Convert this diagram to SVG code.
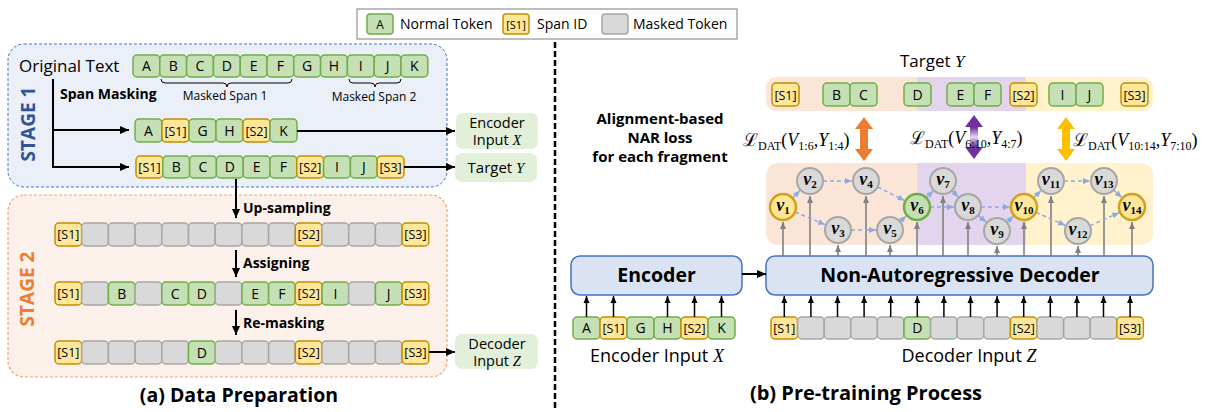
<svg xmlns="http://www.w3.org/2000/svg" width="1217" height="412" viewBox="0 0 1217 412">
<style>
text{font-family:"Open Sans","Noto Sans","DejaVu Sans",sans-serif;fill:#000}
.tg{fill:#c5e0b4;stroke:#70ad47;stroke-width:1.5}
.ty{fill:#ffe699;stroke:#bf9000;stroke-width:1.5}
.tm{fill:#d9d9d9;stroke:#a6a6a6;stroke-width:1.5}
.tl{font-size:14px;text-anchor:middle}
.ts{font-size:12.5px;text-anchor:middle}
.b{font-weight:bold}
.ln{stroke:#000;stroke-width:2;fill:none}
.la{stroke:#000;stroke-width:1.5;fill:none;marker-end:url(#ahk)}
.gray{stroke:#808080;stroke-width:1.6;fill:none;marker-end:url(#ahg)}
.dash{stroke:#8faadc;stroke-width:1.5;fill:none;stroke-dasharray:4 3;marker-end:url(#ahb)}
.nd{fill:#d9d9d9;stroke:#a6a6a6;stroke-width:2}
.ny{fill:#ffe699;stroke:#d4a017;stroke-width:2.5}
.ng{fill:#c5e0b4;stroke:#70ad47;stroke-width:2.5}
.vt{font-family:"Liberation Serif","DejaVu Serif",serif;font-size:18px;font-weight:bold;font-style:italic;text-anchor:middle}
.vs{font-size:11px;font-style:normal}
.math{font-family:"Liberation Serif","DejaVu Serif",serif;font-size:18px}
.sub{font-size:12px}
.it{font-family:"Liberation Serif","DejaVu Serif",serif;font-style:italic}
.box{fill:#e2f0d9}
.al{font-size:15px;font-weight:bold;text-anchor:middle}
</style>
<defs>
<marker id="ah" markerUnits="userSpaceOnUse" markerWidth="10" markerHeight="10" refX="9" refY="5" orient="auto"><path d="M0,1 L9,5 L0,9 z" fill="#000"/></marker>
<marker id="ahk" markerUnits="userSpaceOnUse" markerWidth="8" markerHeight="8" refX="7" refY="4" orient="auto"><path d="M0,1 L7,4 L0,7 z" fill="#000"/></marker>
<marker id="ahg" markerUnits="userSpaceOnUse" markerWidth="8" markerHeight="8" refX="7" refY="4" orient="auto"><path d="M0,1 L7,4 L0,7 z" fill="#808080"/></marker>
<marker id="ahb" markerUnits="userSpaceOnUse" markerWidth="8" markerHeight="8" refX="7" refY="4" orient="auto"><path d="M0,1 L7,4 L0,7 z" fill="#8faadc"/></marker>
<linearGradient id="pg" x1="0" y1="0" x2="0" y2="1"><stop offset="0" stop-color="#7030a0"/><stop offset="0.28" stop-color="#7030a0"/><stop offset="0.5" stop-color="#e6d6f2"/><stop offset="0.72" stop-color="#7030a0"/><stop offset="1" stop-color="#7030a0"/></linearGradient>
</defs>
<rect width="1217" height="412" fill="#fff"/>

<!-- legend -->
<g id="legend">
<rect x="357" y="9" width="380" height="30" fill="#fff" stroke="#7f7f7f" stroke-width="1"/>
<rect x="367" y="14" width="26" height="20" rx="3" class="tg"/><text x="380" y="29" font-size="12" text-anchor="middle">A</text>
<text x="400" y="29" font-size="14">Normal Token</text>
<rect x="503" y="14" width="26" height="20" rx="3" class="ty"/><text x="516" y="29" font-size="11" text-anchor="middle">[S1]</text>
<text x="537" y="29" font-size="14">Span ID</text>
<rect x="602" y="14" width="26" height="20" rx="3" class="tm"/>
<text x="633" y="29" font-size="14">Masked Token</text>
</g>

<!-- divider -->
<line x1="555" y1="42" x2="555" y2="408" stroke="#000" stroke-width="2.5" stroke-dasharray="6 3"/>

<!-- Stage 1 -->
<g id="stage1">
<rect x="8" y="44" width="439" height="143" rx="16" fill="#eaeff8" stroke="#4472c4" stroke-width="1" stroke-dasharray="3 2"/>
<text transform="translate(35,124) rotate(-90)" text-anchor="middle" font-size="19" font-weight="bold" style="fill:#2f5597">STAGE 1</text>
<text x="19" y="72" font-size="17">Original Text</text>
<text x="60" y="99" font-size="14" class="b">Span Masking</text>
</g>
<g id="original-text">
<rect x="133" y="55" width="26.8" height="22" rx="4" class="tg"/><text x="146.4" y="71" class="tl">A</text>
<rect x="159.8" y="55" width="26.8" height="22" rx="4" class="tg"/><text x="173.2" y="71" class="tl">B</text>
<rect x="186.6" y="55" width="26.8" height="22" rx="4" class="tg"/><text x="200" y="71" class="tl">C</text>
<rect x="213.4" y="55" width="26.8" height="22" rx="4" class="tg"/><text x="226.8" y="71" class="tl">D</text>
<rect x="240.2" y="55" width="26.8" height="22" rx="4" class="tg"/><text x="253.6" y="71" class="tl">E</text>
<rect x="267" y="55" width="26.8" height="22" rx="4" class="tg"/><text x="280.4" y="71" class="tl">F</text>
<rect x="293.8" y="55" width="26.8" height="22" rx="4" class="tg"/><text x="307.2" y="71" class="tl">G</text>
<rect x="320.6" y="55" width="26.8" height="22" rx="4" class="tg"/><text x="334" y="71" class="tl">H</text>
<rect x="347.4" y="55" width="26.8" height="22" rx="4" class="tg"/><text x="360.8" y="71" class="tl">I</text>
<rect x="374.2" y="55" width="26.8" height="22" rx="4" class="tg"/><text x="387.6" y="71" class="tl">J</text>
<rect x="401" y="55" width="26.8" height="22" rx="4" class="tg"/><text x="414.4" y="71" class="tl">K</text>
<path d="M161,79 q0,4 4,4 L223,83 q4,0 4,4 q0,-4 4,-4 L288,83 q4,0 4,-4" fill="none" stroke="#000" stroke-width="1"/>
<text x="225" y="100" font-size="12" text-anchor="middle">Masked Span 1</text>
<path d="M349,79 q0,4 4,4 L371,83 q4,0 4,4 q0,-4 4,-4 L397,83 q4,0 4,-4" fill="none" stroke="#000" stroke-width="1"/>
<text x="374" y="101" font-size="12" text-anchor="middle">Masked Span 2</text>
</g>
<g id="s1-encoder-row">
<rect x="135" y="119" width="27" height="23" rx="4" class="tg"/><text x="148.5" y="136" class="tl">A</text>
<rect x="162" y="119" width="27" height="23" rx="4" class="ty"/><text x="175.5" y="135.5" class="ts">[S1]</text>
<rect x="189" y="119" width="27" height="23" rx="4" class="tg"/><text x="202.5" y="136" class="tl">G</text>
<rect x="216" y="119" width="27" height="23" rx="4" class="tg"/><text x="229.5" y="136" class="tl">H</text>
<rect x="243" y="119" width="27" height="23" rx="4" class="ty"/><text x="256.5" y="135.5" class="ts">[S2]</text>
<rect x="270" y="119" width="27" height="23" rx="4" class="tg"/><text x="283.5" y="136" class="tl">K</text>
</g>
<g id="s1-target-row">
<rect x="136" y="156" width="26.8" height="22" rx="4" class="ty"/><text x="149.4" y="171.5" class="ts">[S1]</text>
<rect x="162.8" y="156" width="26.8" height="22" rx="4" class="tg"/><text x="176.2" y="172" class="tl">B</text>
<rect x="189.6" y="156" width="26.8" height="22" rx="4" class="tg"/><text x="203" y="172" class="tl">C</text>
<rect x="216.4" y="156" width="26.8" height="22" rx="4" class="tg"/><text x="229.8" y="172" class="tl">D</text>
<rect x="243.2" y="156" width="26.8" height="22" rx="4" class="tg"/><text x="256.6" y="172" class="tl">E</text>
<rect x="270" y="156" width="26.8" height="22" rx="4" class="tg"/><text x="283.4" y="172" class="tl">F</text>
<rect x="296.8" y="156" width="26.8" height="22" rx="4" class="ty"/><text x="310.2" y="171.5" class="ts">[S2]</text>
<rect x="323.6" y="156" width="26.8" height="22" rx="4" class="tg"/><text x="337" y="172" class="tl">I</text>
<rect x="350.4" y="156" width="26.8" height="22" rx="4" class="tg"/><text x="363.8" y="172" class="tl">J</text>
<rect x="377.2" y="156" width="26.8" height="22" rx="4" class="ty"/><text x="390.6" y="171.5" class="ts">[S3]</text>
</g>
<g id="encoder-input-x-box">
<rect x="456" y="113" width="82" height="36" rx="7" class="box"/>
<text x="497" y="127.5" font-size="14.5" text-anchor="middle">Encoder</text>
<text x="497" y="145" font-size="14.5" text-anchor="middle">Input <tspan class="it">X</tspan></text>
</g>
<g id="target-y-box">
<rect x="455" y="153" width="82" height="29" rx="7" class="box"/>
<text x="496" y="173" font-size="15" text-anchor="middle">Target <tspan class="it">Y</tspan></text>
</g>

<!-- Stage 2 -->
<g id="stage2">
<rect x="8" y="195" width="439" height="182" rx="16" fill="#fcf1ea" stroke="#f4a26b" stroke-width="1.2" stroke-dasharray="3 2"/>
<text transform="translate(34,289) rotate(-90)" text-anchor="middle" font-size="19" font-weight="bold" style="fill:#ed7d31">STAGE 2</text>
<text x="243" y="213" font-size="14" class="b">Up-sampling</text>
<text x="243" y="268" font-size="14" class="b">Assigning</text>
<text x="243" y="328" font-size="14" class="b">Re-masking</text>
</g>
<g id="s2-upsampled-row">
<rect x="55" y="223" width="26.7" height="23" rx="4" class="ty"/><text x="68.35" y="239" class="ts">[S1]</text>
<rect x="81.7" y="223" width="26.7" height="23" rx="4" class="tm"/>
<rect x="108.4" y="223" width="26.7" height="23" rx="4" class="tm"/>
<rect x="135.1" y="223" width="26.7" height="23" rx="4" class="tm"/>
<rect x="161.8" y="223" width="26.7" height="23" rx="4" class="tm"/>
<rect x="188.5" y="223" width="26.7" height="23" rx="4" class="tm"/>
<rect x="215.2" y="223" width="26.7" height="23" rx="4" class="tm"/>
<rect x="241.9" y="223" width="26.7" height="23" rx="4" class="tm"/>
<rect x="268.6" y="223" width="26.7" height="23" rx="4" class="tm"/>
<rect x="295.3" y="223" width="26.7" height="23" rx="4" class="ty"/><text x="308.65" y="239" class="ts">[S2]</text>
<rect x="322" y="223" width="26.7" height="23" rx="4" class="tm"/>
<rect x="348.7" y="223" width="26.7" height="23" rx="4" class="tm"/>
<rect x="375.4" y="223" width="26.7" height="23" rx="4" class="tm"/>
<rect x="402.1" y="223" width="26.7" height="23" rx="4" class="ty"/><text x="415.45" y="239" class="ts">[S3]</text>
</g>
<g id="s2-assigned-row">
<rect x="55" y="282" width="26.7" height="23" rx="4" class="ty"/><text x="68.35" y="298" class="ts">[S1]</text>
<rect x="81.7" y="282" width="26.7" height="23" rx="4" class="tm"/>
<rect x="108.4" y="282" width="26.7" height="23" rx="4" class="tg"/><text x="121.75" y="298.5" class="tl">B</text>
<rect x="135.1" y="282" width="26.7" height="23" rx="4" class="tm"/>
<rect x="161.8" y="282" width="26.7" height="23" rx="4" class="tg"/><text x="175.15" y="298.5" class="tl">C</text>
<rect x="188.5" y="282" width="26.7" height="23" rx="4" class="tg"/><text x="201.85" y="298.5" class="tl">D</text>
<rect x="215.2" y="282" width="26.7" height="23" rx="4" class="tm"/>
<rect x="241.9" y="282" width="26.7" height="23" rx="4" class="tg"/><text x="255.25" y="298.5" class="tl">E</text>
<rect x="268.6" y="282" width="26.7" height="23" rx="4" class="tg"/><text x="281.95" y="298.5" class="tl">F</text>
<rect x="295.3" y="282" width="26.7" height="23" rx="4" class="ty"/><text x="308.65" y="298" class="ts">[S2]</text>
<rect x="322" y="282" width="26.7" height="23" rx="4" class="tg"/><text x="335.35" y="298.5" class="tl">I</text>
<rect x="348.7" y="282" width="26.7" height="23" rx="4" class="tm"/>
<rect x="375.4" y="282" width="26.7" height="23" rx="4" class="tg"/><text x="388.75" y="298.5" class="tl">J</text>
<rect x="402.1" y="282" width="26.7" height="23" rx="4" class="ty"/><text x="415.45" y="298" class="ts">[S3]</text>
</g>
<g id="s2-remasked-row">
<rect x="55" y="341" width="26.7" height="23" rx="4" class="ty"/><text x="68.35" y="357" class="ts">[S1]</text>
<rect x="81.7" y="341" width="26.7" height="23" rx="4" class="tm"/>
<rect x="108.4" y="341" width="26.7" height="23" rx="4" class="tm"/>
<rect x="135.1" y="341" width="26.7" height="23" rx="4" class="tm"/>
<rect x="161.8" y="341" width="26.7" height="23" rx="4" class="tm"/>
<rect x="188.5" y="341" width="26.7" height="23" rx="4" class="tg"/><text x="201.85" y="357.5" class="tl">D</text>
<rect x="215.2" y="341" width="26.7" height="23" rx="4" class="tm"/>
<rect x="241.9" y="341" width="26.7" height="23" rx="4" class="tm"/>
<rect x="268.6" y="341" width="26.7" height="23" rx="4" class="tm"/>
<rect x="295.3" y="341" width="26.7" height="23" rx="4" class="ty"/><text x="308.65" y="357" class="ts">[S2]</text>
<rect x="322" y="341" width="26.7" height="23" rx="4" class="tm"/>
<rect x="348.7" y="341" width="26.7" height="23" rx="4" class="tm"/>
<rect x="375.4" y="341" width="26.7" height="23" rx="4" class="tm"/>
<rect x="402.1" y="341" width="26.7" height="23" rx="4" class="ty"/><text x="415.45" y="357" class="ts">[S3]</text>
</g>
<g id="decoder-input-z-box">
<rect x="455" y="334" width="83" height="35" rx="7" class="box"/>
<text x="497" y="348.5" font-size="14.5" text-anchor="middle">Decoder</text>
<text x="497" y="366" font-size="14.5" text-anchor="middle">Input <tspan class="it">Z</tspan></text>
</g>
<text x="239" y="402" font-size="19.5" font-weight="bold" text-anchor="middle">(a) Data Preparation</text>

<!-- Right panel -->
<text x="900" y="67" font-size="17">Target <tspan class="it">Y</tspan></text>
<g id="target-band">
<rect x="766" y="77" width="170" height="34" rx="10" fill="#fbe5d6"/>
<rect x="1005" y="77" width="148" height="34" rx="10" fill="#fff2cc"/>
<rect x="917" y="77" width="109" height="34" fill="#e3d5ee"/>
</g>
<g id="target-tokens">
<rect x="772" y="83" width="27" height="23" rx="4" class="ty"/><text x="785.5" y="99.5" class="ts">[S1]</text>
<rect x="823" y="83" width="27" height="23" rx="4" class="tg"/><text x="836.5" y="100" class="tl">B</text>
<rect x="850" y="83" width="27" height="23" rx="4" class="tg"/><text x="863.5" y="100" class="tl">C</text>
<rect x="904" y="83" width="27" height="23" rx="4" class="tg"/><text x="917.5" y="100" class="tl">D</text>
<rect x="947" y="83" width="27" height="23" rx="4" class="tg"/><text x="960.5" y="100" class="tl">E</text>
<rect x="974" y="83" width="27" height="23" rx="4" class="tg"/><text x="987.5" y="100" class="tl">F</text>
<rect x="1010" y="83" width="27" height="23" rx="4" class="ty"/><text x="1023.5" y="99.5" class="ts">[S2]</text>
<rect x="1049" y="83" width="27" height="23" rx="4" class="tg"/><text x="1062.5" y="100" class="tl">I</text>
<rect x="1076" y="83" width="27" height="23" rx="4" class="tg"/><text x="1089.5" y="100" class="tl">J</text>
<rect x="1121" y="83" width="27" height="23" rx="4" class="ty"/><text x="1134.5" y="99.5" class="ts">[S3]</text>
</g>

<text x="660" y="124" class="al">Alignment-based</text>
<text x="660" y="143" class="al">NAR loss</text>
<text x="660" y="162" class="al">for each fragment</text>

<g id="loss-arrows">
<polygon points="864,117 873,129 868,129 868,149 873,149 864,161 855,149 860,149 860,129 855,129" fill="#ed7d31"/>
<polygon points="974,115 983,127 978,127 978,147 983,147 974,159 965,147 970,147 970,127 965,127" fill="url(#pg)"/>
<polygon points="1066,117 1075,129 1070,129 1070,149 1075,149 1066,161 1057,149 1062,149 1062,129 1057,129" fill="#ffc000"/>
</g>
<text x="743" y="146" class="math">ℒ<tspan class="sub" dy="4">DAT</tspan><tspan dy="-4">(</tspan><tspan font-style="italic">V</tspan><tspan class="sub" dy="4">1:6</tspan><tspan dy="-4">,</tspan><tspan font-style="italic">Y</tspan><tspan class="sub" dy="4">1:4</tspan><tspan dy="-4">)</tspan></text>
<text x="910" y="144" class="math">ℒ<tspan class="sub" dy="4">DAT</tspan><tspan dy="-4">(</tspan><tspan font-style="italic">V</tspan><tspan class="sub" dy="4">6:10</tspan><tspan dy="-4">,</tspan><tspan font-style="italic">Y</tspan><tspan class="sub" dy="4">4:7</tspan><tspan dy="-4">)</tspan></text>
<text x="1073" y="146" class="math">ℒ<tspan class="sub" dy="4">DAT</tspan><tspan dy="-4">(</tspan><tspan font-style="italic">V</tspan><tspan class="sub" dy="4">10:14</tspan><tspan dy="-4">,</tspan><tspan font-style="italic">Y</tspan><tspan class="sub" dy="4">7:10</tspan><tspan dy="-4">)</tspan></text>

<g id="dag-band">
<rect x="766" y="163" width="170" height="82" rx="12" fill="#fbe5d6"/>
<rect x="1005" y="163" width="148" height="82" rx="12" fill="#fff2cc"/>
<rect x="917" y="163" width="109" height="82" fill="#e3d5ee"/>
</g>

<g id="encoder">
<rect x="571" y="256" width="171" height="39" rx="9" fill="#dae3f3" stroke="#4472c4" stroke-width="1.5"/>
<text x="656.5" y="282" font-size="19.5" font-weight="bold" text-anchor="middle">Encoder</text>
</g>
<g id="decoder">
<rect x="766" y="256" width="387" height="39" rx="9" fill="#dae3f3" stroke="#4472c4" stroke-width="1.5"/>
<text x="960" y="282" font-size="19.5" font-weight="bold" text-anchor="middle">Non-Autoregressive Decoder</text>
</g>

<g id="encoder-input-tokens">
<rect x="573" y="317" width="27" height="22" rx="4" class="tg"/><text x="586.5" y="333" class="tl">A</text>
<rect x="600" y="317" width="27" height="22" rx="4" class="ty"/><text x="613.5" y="332.5" class="ts">[S1]</text>
<rect x="627" y="317" width="27" height="22" rx="4" class="tg"/><text x="640.5" y="333" class="tl">G</text>
<rect x="654" y="317" width="27" height="22" rx="4" class="tg"/><text x="667.5" y="333" class="tl">H</text>
<rect x="681" y="317" width="27" height="22" rx="4" class="ty"/><text x="694.5" y="332.5" class="ts">[S2]</text>
<rect x="708" y="317" width="27" height="22" rx="4" class="tg"/><text x="721.5" y="333" class="tl">K</text>
</g>
<text x="657" y="362" font-size="18" text-anchor="middle">Encoder Input <tspan class="it">X</tspan></text>

<g id="decoder-input-tokens">
<rect x="771" y="317" width="26.6" height="22" rx="4" class="ty"/><text x="784.3" y="332.5" class="ts">[S1]</text>
<rect x="797.6" y="317" width="26.6" height="22" rx="4" class="tm"/>
<rect x="824.2" y="317" width="26.6" height="22" rx="4" class="tm"/>
<rect x="850.8" y="317" width="26.6" height="22" rx="4" class="tm"/>
<rect x="877.4" y="317" width="26.6" height="22" rx="4" class="tm"/>
<rect x="904" y="317" width="26.6" height="22" rx="4" class="tg"/><text x="917.3" y="333" class="tl">D</text>
<rect x="930.6" y="317" width="26.6" height="22" rx="4" class="tm"/>
<rect x="957.2" y="317" width="26.6" height="22" rx="4" class="tm"/>
<rect x="983.8" y="317" width="26.6" height="22" rx="4" class="tm"/>
<rect x="1010.4" y="317" width="26.6" height="22" rx="4" class="ty"/><text x="1023.7" y="332.5" class="ts">[S2]</text>
<rect x="1037" y="317" width="26.6" height="22" rx="4" class="tm"/>
<rect x="1063.6" y="317" width="26.6" height="22" rx="4" class="tm"/>
<rect x="1090.2" y="317" width="26.6" height="22" rx="4" class="tm"/>
<rect x="1116.8" y="317" width="26.6" height="22" rx="4" class="ty"/><text x="1130.1" y="332.5" class="ts">[S3]</text>
</g>
<text x="969" y="362" font-size="18" text-anchor="middle">Decoder Input  <tspan class="it">Z</tspan></text>
<text x="866" y="400" font-size="20" font-weight="bold" text-anchor="middle">(b) Pre-training Process</text>

<!-- connectors -->
<g id="connectors">
<path d="M53,79 V167 H129" class="ln" marker-end="url(#ah)"/>
<path d="M53,130 H129" class="ln" marker-end="url(#ah)"/>
<path d="M297,131 H455" class="ln" marker-end="url(#ah)"/>
<path d="M404,167 H455" class="ln" marker-end="url(#ah)"/>
<path d="M429,352 H455" class="ln" marker-end="url(#ah)"/>
<path d="M236,179 V218" class="ln" marker-end="url(#ah)"/>
<path d="M236,250 V277" class="ln" marker-end="url(#ah)"/>
<path d="M236,310 V335" class="ln" marker-end="url(#ah)"/>
<path d="M742,274 H766" class="ln" marker-end="url(#ah)"/>
<path d="M586.5,317 V296" class="la"/>
<path d="M613.5,317 V296" class="la"/>
<path d="M667.5,317 V296" class="la"/>
<path d="M694.5,317 V296" class="la"/>
<path d="M721.5,317 V296" class="la"/>
<path d="M784.3,317 V296" class="la"/>
<path d="M810.9,317 V296" class="la"/>
<path d="M837.5,317 V296" class="la"/>
<path d="M864.1,317 V296" class="la"/>
<path d="M890.7,317 V296" class="la"/>
<path d="M917.3,317 V296" class="la"/>
<path d="M943.9,317 V296" class="la"/>
<path d="M970.5,317 V296" class="la"/>
<path d="M997.1,317 V296" class="la"/>
<path d="M1023.7,317 V296" class="la"/>
<path d="M1050.3,317 V296" class="la"/>
<path d="M1076.9,317 V296" class="la"/>
<path d="M1103.5,317 V296" class="la"/>
<path d="M1130.1,317 V296" class="la"/>
<path d="M783,256 V222" class="gray"/>
<path d="M810,256 V196" class="gray"/>
<path d="M838,256 V245" class="gray"/>
<path d="M866,256 V196" class="gray"/>
<path d="M890,256 V245" class="gray"/>
<path d="M917,256 V222" class="gray"/>
<path d="M943,256 V196" class="gray"/>
<path d="M968,256 V222" class="gray"/>
<path d="M997,256 V246" class="gray"/>
<path d="M1024,256 V222" class="gray"/>
<path d="M1051,256 V196" class="gray"/>
<path d="M1078,256 V246" class="gray"/>
<path d="M1104,256 V196" class="gray"/>
<path d="M1132,256 V222" class="gray"/>
<path d="M792.4,198 L799.9,190.7" class="dash"/>
<path d="M795,212 L825.1,224.6" class="dash"/>
<path d="M823,181 L852,181" class="dash"/>
<path d="M851,230 L876,230" class="dash"/>
<path d="M877.6,186.9 L904.5,200.6" class="dash"/>
<path d="M899.9,221.6 L906.3,216.1" class="dash"/>
<path d="M926.2,197.8 L933.1,190.9" class="dash"/>
<path d="M930,207 L954,207" class="dash"/>
<path d="M952,190.4 L958.3,196.9" class="dash"/>
<path d="M978,215.3 L986.2,222.1" class="dash"/>
<path d="M981,207 L1010,207" class="dash"/>
<path d="M1006.7,222.4 L1013.5,216.3" class="dash"/>
<path d="M1033.4,198 L1040.9,190.7" class="dash"/>
<path d="M1035.9,212.3 L1065.2,225.3" class="dash"/>
<path d="M1064,181 L1090,181" class="dash"/>
<path d="M1089.9,225.7 L1119.2,212.7" class="dash"/>
<path d="M1113.5,189.9 L1121.7,197.5" class="dash"/>
</g>

<!-- nodes -->
<g id="v1"><circle cx="783" cy="207" r="13" class="ny"/><text x="783" y="211" class="vt">v<tspan class="vs" dy="3">1</tspan></text></g>
<g id="v2"><circle cx="810" cy="181" r="13" class="nd"/><text x="810" y="185" class="vt">v<tspan class="vs" dy="3">2</tspan></text></g>
<g id="v3"><circle cx="838" cy="230" r="13" class="nd"/><text x="838" y="234" class="vt">v<tspan class="vs" dy="3">3</tspan></text></g>
<g id="v4"><circle cx="866" cy="181" r="13" class="nd"/><text x="866" y="185" class="vt">v<tspan class="vs" dy="3">4</tspan></text></g>
<g id="v5"><circle cx="890" cy="230" r="13" class="nd"/><text x="890" y="234" class="vt">v<tspan class="vs" dy="3">5</tspan></text></g>
<g id="v6"><circle cx="917" cy="207" r="13" class="ng"/><text x="917" y="211" class="vt">v<tspan class="vs" dy="3">6</tspan></text></g>
<g id="v7"><circle cx="943" cy="181" r="13" class="nd"/><text x="943" y="185" class="vt">v<tspan class="vs" dy="3">7</tspan></text></g>
<g id="v8"><circle cx="968" cy="207" r="13" class="nd"/><text x="968" y="211" class="vt">v<tspan class="vs" dy="3">8</tspan></text></g>
<g id="v9"><circle cx="997" cy="231" r="13" class="nd"/><text x="997" y="235" class="vt">v<tspan class="vs" dy="3">9</tspan></text></g>
<g id="v10"><circle cx="1024" cy="207" r="13" class="ny"/><text x="1024" y="211" class="vt">v<tspan class="vs" dy="3">10</tspan></text></g>
<g id="v11"><circle cx="1051" cy="181" r="13" class="nd"/><text x="1051" y="185" class="vt">v<tspan class="vs" dy="3">11</tspan></text></g>
<g id="v12"><circle cx="1078" cy="231" r="13" class="nd"/><text x="1078" y="235" class="vt">v<tspan class="vs" dy="3">12</tspan></text></g>
<g id="v13"><circle cx="1104" cy="181" r="13" class="nd"/><text x="1104" y="185" class="vt">v<tspan class="vs" dy="3">13</tspan></text></g>
<g id="v14"><circle cx="1132" cy="207" r="13" class="ny"/><text x="1132" y="211" class="vt">v<tspan class="vs" dy="3">14</tspan></text></g>
</svg>
